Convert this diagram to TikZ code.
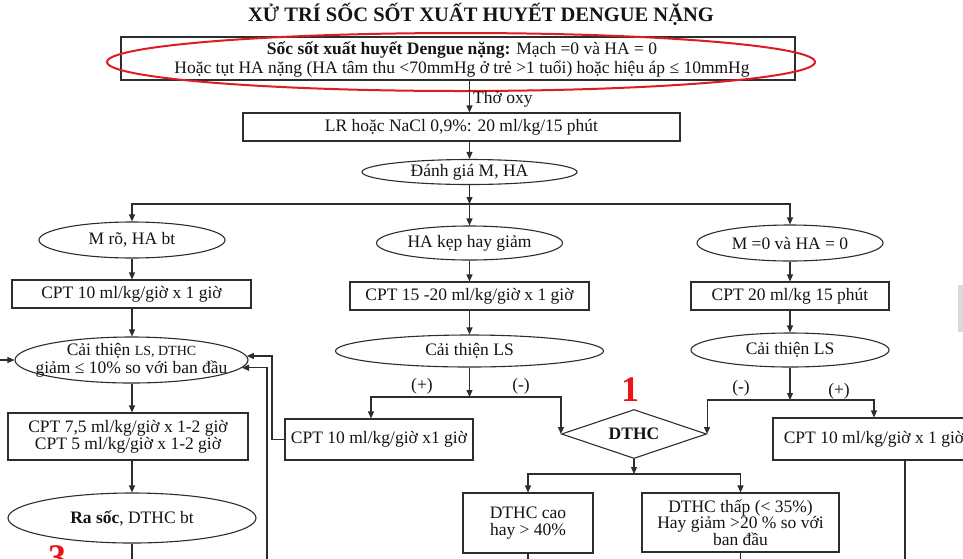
\documentclass[tikz,border=0pt]{standalone}
\usepackage{fontspec}
\setmainfont{Liberation Serif}
\usetikzlibrary{arrows.meta,shapes.geometric,calc}
\definecolor{ringred}{RGB}{222,28,36}
\definecolor{numred}{RGB}{235,20,20}
\definecolor{ink}{RGB}{45,45,45}
\begin{document}
\begin{tikzpicture}[x=1pt,y=-1pt,
  every node/.style={font=\fontsize{17.5}{17.5}\selectfont, text=black!92, inner sep=0pt},
  line/.style={draw=ink, line width=1.1pt},
  arr/.style={line, -{Triangle[length=7pt,width=6pt]}},
  box/.style={draw=ink, line width=1.1pt, rectangle, align=center},
  oval/.style={draw=ink, line width=1.1pt, ellipse, align=center},
  numlbl/.style={text=numred, font=\bfseries\fontsize{36}{36}\selectfont},
]
\useasboundingbox (0,0) rectangle (963,558);
\fill[white] (0,0) rectangle (963,558);
\clip (0,0) rectangle (963,558);

% title
\node[font=\bfseries\fontsize{20.5}{20.5}\selectfont] (title) at (481,14) {XỬ TRÍ SỐC SỐT XUẤT HUYẾT DENGUE NẶNG};

% top box
\node[box, minimum width=674pt, minimum height=43pt] (top) at (458,58.5) {};
\node[align=center, font=\fontsize{17.5}{19}\selectfont] (toptext) at (462,59.5)
  {\textbf{Sốc sốt xuất huyết Dengue nặng:} Mạch =0 và HA = 0\\Hoặc tụt HA nặng (HA tâm thu <70mmHg ở trẻ >1 tuổi) hoặc hiệu áp ≤ 10mmHg};
\node[draw=ringred, line width=2pt, ellipse, minimum width=708pt, minimum height=58pt] (ring) at (461,62) {};

\coordinate (cx) at (469.5,0);
\node[box, minimum width=437pt, minimum height=28pt] (lr) at (461.5,127) {LR hoặc NaCl 0,9\%: 20 ml/kg/15 phút};
\draw[arr] (top.south -| cx) -- (lr.north -| cx);
\node[anchor=west] (oxy) at (473,99) {Thở oxy};

\node[oval, minimum width=215pt, minimum height=25pt] (dg) at (469.5,172) {Đánh giá M, HA};
\draw[arr] (lr.south -| dg) -- (dg.north);

% row 2
\node[oval, minimum width=186pt, minimum height=36pt] (e1) at (132,240) {M rõ, HA bt};
\node[oval, minimum width=186pt, minimum height=34pt] (e2) at (469.5,243) {HA kẹp hay giảm};
\node[oval, minimum width=186pt, minimum height=36pt] (e3) at (790,243) {M =0 và HA = 0};
\coordinate (j1) at (469.5,204);
\draw[arr] (dg.south) -- (j1);
\draw[arr] (j1) -| (e1.north);
\draw[arr] (j1) -| (e3.north);
\draw[arr] (j1) -- (e2.north);

% row 3
\node[box, minimum width=239pt, minimum height=28pt] (b1) at (131.5,294) {CPT 10 ml/kg/giờ x 1 giờ};
\node[box, minimum width=239pt, minimum height=28pt] (b2) at (469.5,296) {CPT 15 -20 ml/kg/giờ x 1 giờ};
\node[box, minimum width=198pt, minimum height=28pt] (b3) at (790,296) {CPT 20 ml/kg 15 phút};
\draw[arr] (e1.south) -- (b1.north -| e1);
\draw[arr] (e2.south) -- (b2.north);
\draw[arr] (e3.south) -- (b3.north);

% row 4
\node[oval, minimum width=233pt, minimum height=46pt] (c1) at (131.5,360) {};
\node[align=center, font=\fontsize{17.5}{18}\selectfont] (c1text) at (131.5,360)
  {Cải thiện {\fontsize{14}{14}\selectfont LS, DTHC}\\giảm ≤ 10\% so với ban đầu};
\node[oval, minimum width=268pt, minimum height=32pt] (c2) at (469.5,351) {Cải thiện LS};
\node[oval, minimum width=198pt, minimum height=34pt] (c3) at (790,350) {Cải thiện LS};
\draw[arr] (b1.south -| e1) -- (c1.north -| e1);
\draw[arr] (b2.south) -- (c2.north);
\draw[arr] (b3.south) -- (c3.north);

% left column
\node[box, minimum width=240pt, minimum height=47pt, font=\fontsize{17.5}{17.3}\selectfont] (d1) at (128,436.5)
  {CPT 7,5 ml/kg/giờ x 1-2 giờ\\CPT 5 ml/kg/giờ x 1-2 giờ};
\node[oval, minimum width=248pt, minimum height=50pt] (r1) at (132,518) {\textbf{Ra sốc}, DTHC bt};
\coordinate (lout) at (132,566);
\draw[arr] (c1.south -| e1) -- (d1.north -| e1);
\draw[arr] (d1.south -| e1) -- (r1.north);
\draw[arr] (r1.south) -- (lout);
\node[numlbl] (n3) at (57,558) {3};
\coordinate (lin) at (-6,360);
\draw[arr] (lin) -- (c1.west);

% middle column
\node[box, minimum width=188pt, minimum height=41pt] (m1) at (379,439.5) {CPT 10 ml/kg/giờ x1 giờ};
\node[draw=ink, line width=1.1pt, diamond, aspect=3, minimum width=145pt, minimum height=49pt,
      font=\bfseries\fontsize{17.5}{17.5}\selectfont] (dthc) at (634,434) {DTHC};
\coordinate (j2) at (469.5,397);
\coordinate (p2) at (371,397);
\draw[arr] (c2.south) -- (j2);
\draw[arr] (j2) -- (p2) -- (m1.north -| p2);
\draw[arr] (j2) -| (dthc.west);
\node (plus1) at (422,386) {(+)};
\node (minus1) at (521,386) {(-)};
\node[numlbl] (n1) at (630,390) {1};

% feedback to c1
\coordinate (f1) at (272,439.5);
\draw[arr] (m1.west) -- (f1) |- (c1.2);
\coordinate (f2) at (267,566);
\draw[arr] (f2) |- (c1.-4);

% right column
\node[box, minimum width=202pt, minimum height=42pt] (rb) at (874,439) {CPT 10 ml/kg/giờ x 1 giờ};
\coordinate (j3) at (790,400);
\draw[arr] (c3.south) -- (j3);
\draw[arr] (j3) -| (dthc.east);
\draw[arr] (j3) -| (rb.north);
\node (minus2) at (741,388) {(-)};
\node (plus2) at (839,391) {(+)};
\coordinate (rbe) at (905,566);
\draw[line] (rb.south -| rbe) -- (rbe);

% DTHC outcomes
\node[box, minimum width=130pt, minimum height=60pt, font=\fontsize{17.5}{17}\selectfont] (hi) at (528,523) {DTHC cao\\hay > 40\%};
\node[box, minimum width=197pt, minimum height=59pt, font=\fontsize{17.5}{16.7}\selectfont] (lo) at (740.5,522.5)
  {DTHC thấp (< 35\%)\\Hay giảm >20 \% so với\\ban đầu};
\coordinate (j4) at (634,474);
\draw[arr] (dthc.south) -- (j4);
\draw[arr] (j4) -| (hi.north);
\draw[arr] (j4) -| (lo.north);
\coordinate (hout) at (528,566);
\coordinate (lo2) at (740.5,566);
\draw[arr] (hi.south) -- (hout);
\draw[arr] (lo.south) -- (lo2);

% scrollbar fragment
\fill[black!15] (958,285) rectangle (963,332);
\end{tikzpicture}
\end{document}
